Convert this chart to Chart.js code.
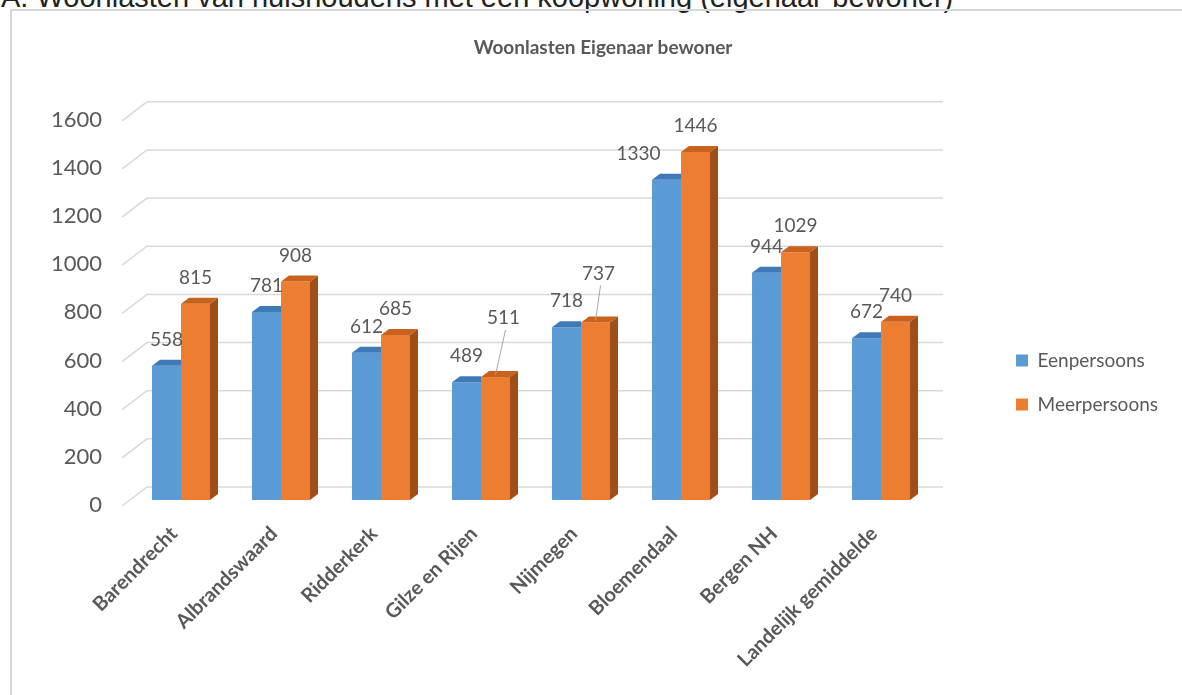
<!DOCTYPE html>
<html>
<head>
<meta charset="utf-8">
<script src="https://cdn.jsdelivr.net/npm/chart.js@4.4.0/dist/chart.umd.min.js"></script>
<style>
body { margin: 0; background: #fff; overflow: hidden; width: 1182px; height: 695px; position: relative; }
#caption { position: absolute; left: 1px; top: -18px; font: 29px "Liberation Sans", Arial, sans-serif; line-height: 30px; color: #222; white-space: nowrap; }
#frame { position: absolute; left: 10px; top: 9px; width: 1200px; height: 720px; border-left: 2px solid #d6d6d6; border-top: 2px solid #d6d6d6; }
#chart { position: absolute; left: 0; top: 0; }
</style>
</head>
<body>
<div id="caption">A. Woonlasten van huishoudens met een koopwoning (eigenaar-bewoner)</div>
<div id="frame"></div>
<canvas id="chart" width="1182" height="765"></canvas>
<script>
var categories = ['Barendrecht', 'Albrandswaard', 'Ridderkerk', 'Gilze en Rijen', 'Nijmegen', 'Bloemendaal', 'Bergen NH', 'Landelijk gemiddelde'];
var eenpersoons = [558, 781, 612, 489, 718, 1330, 944, 672];
var meerpersoons = [815, 908, 685, 511, 737, 1446, 1029, 740];
var seriesNames = ['Eenpersoons', 'Meerpersoons'];

var grey = '#595959';

// back wall gridlines, drawn with a bit of perspective
var grid3d = {
	id: 'grid3d',
	beforeDatasetsDraw: function(chart) {
		var ctx = chart.ctx, ys = chart.scales.y, area = chart.chartArea;
		ctx.save();
		ctx.strokeStyle = '#d9d9d9';
		ctx.lineWidth = 1.5;
		ys.ticks.forEach(function(t) {
			var y = ys.getPixelForValue(t.value);
			ctx.beginPath();
			ctx.moveTo(area.left - 9, y + 6);
			ctx.lineTo(area.left + 16, y - 13);
			ctx.lineTo(area.right + 12, y - 13);
			ctx.stroke();
		});
		ctx.restore();
	}
};

// top and side faces of the columns
// (the first series sits behind the second, so its side is hidden)
var bars3d = {
	id: 'bars3d',
	afterDatasetDraw: function(chart, args) {
		var ctx = chart.ctx, ds = chart.data.datasets[args.index];
		var last = args.index == chart.data.datasets.length - 1;
		var dx = 8, dy = 6;
		ctx.save();
		args.meta.data.forEach(function(bar) {
			var p = bar.getProps(['x', 'y', 'base', 'width'], true);
			var l = p.x - p.width / 2, r = p.x + p.width / 2;
			ctx.fillStyle = ds.topColor;
			ctx.beginPath();
			ctx.moveTo(l, p.y);
			ctx.lineTo(l + dx, p.y - dy);
			ctx.lineTo(last ? r + dx : r, p.y - dy);
			ctx.lineTo(r, p.y);
			ctx.closePath();
			ctx.fill();
			if (!last)
				return;
			ctx.fillStyle = ds.sideColor;
			ctx.beginPath();
			ctx.moveTo(r, p.y);
			ctx.lineTo(r + dx, p.y - dy);
			ctx.lineTo(r + dx, p.base - dy);
			ctx.lineTo(r, p.base);
			ctx.closePath();
			ctx.fill();
		});
		ctx.restore();
	}
};

// value labels above columns (a few are moved off, some with a leader line)
var valueLabels = {
	id: 'valueLabels',
	moves: [
		{ 5: [-28, 0] },
		{ 3: [8, -33, true], 4: [3, -23, true] }
	],
	afterDatasetsDraw: function(chart) {
		var ctx = chart.ctx, moves = this.moves;
		ctx.save();
		ctx.font = '19px Lato';
		ctx.fillStyle = grey;
		ctx.textAlign = 'center';
		ctx.textBaseline = 'middle';
		chart.data.datasets.forEach(function(ds, di) {
			var meta = chart.getDatasetMeta(di);
			meta.data.forEach(function(bar, i) {
				var x = bar.x, y = bar.y - 26;
				var m = moves[di][i];
				if (m) {
					x += m[0];
					y += m[1];
					if (m[2]) {
						ctx.strokeStyle = '#a6a6a6';
						ctx.lineWidth = 1;
						ctx.beginPath();
						ctx.moveTo(x + 2, y + 12);
						ctx.lineTo(bar.x, bar.y - 2);
						ctx.stroke();
					}
				}
				ctx.fillText(ds.data[i], x, y);
			});
		});
		ctx.restore();
	}
};

new Chart(document.getElementById('chart'), {
	type: 'bar',
	data: {
		labels: categories,
		datasets: [{
			label: seriesNames[0],
			data: eenpersoons,
			backgroundColor: '#5b9bd5',
			topColor: '#3f7ab8'
		}, {
			label: seriesNames[1],
			data: meerpersoons,
			backgroundColor: '#ed7d31',
			topColor: '#c8621d',
			sideColor: '#a04e17'
		}]
	},
	plugins: [grid3d, bars3d, valueLabels],
	options: {
		responsive: false,
		animation: false,
		devicePixelRatio: 1,
		categoryPercentage: 0.58,
		barPercentage: 1,
		layout: { padding: { left: 38, right: 14, top: 0, bottom: 0 } },
		scales: {
			x: {
				grid: { display: false },
				border: { display: false },
				ticks: {
					color: grey,
					font: { family: 'Lato', size: 20, weight: 'bold' },
					maxRotation: 45,
					minRotation: 45,
					padding: 14,
					labelOffset: -7
				},
				afterFit: function(s) { s.height = 265; }
			},
			y: {
				min: 0,
				max: 1600,
				grid: { display: false, drawTicks: false },
				border: { display: false },
				ticks: {
					stepSize: 200,
					color: grey,
					font: { family: 'Lato', size: 22 },
					padding: 29,
					labelOffset: 5,
					callback: function(v) { return String(v); }
				},
				afterFit: function(s) { s.width = 93; }
			},
			gap: {
				position: 'right',
				grid: { display: false },
				border: { display: false },
				ticks: { display: false },
				afterFit: function(s) { s.width = 60; }
			}
		},
		plugins: {
			title: {
				display: true,
				text: 'Woonlasten Eigenaar bewoner',
				color: grey,
				font: { family: 'Lato', size: 19, weight: 'bold' },
				padding: { top: 36, bottom: 56 }
			},
			legend: {
				position: 'right',
				labels: {
					color: grey,
					font: { family: 'Lato', size: 19 },
					boxWidth: 12,
					boxHeight: 12,
					padding: 25
				}
			},
			tooltip: { enabled: false }
		}
	}
});
</script>
</body>
</html>
